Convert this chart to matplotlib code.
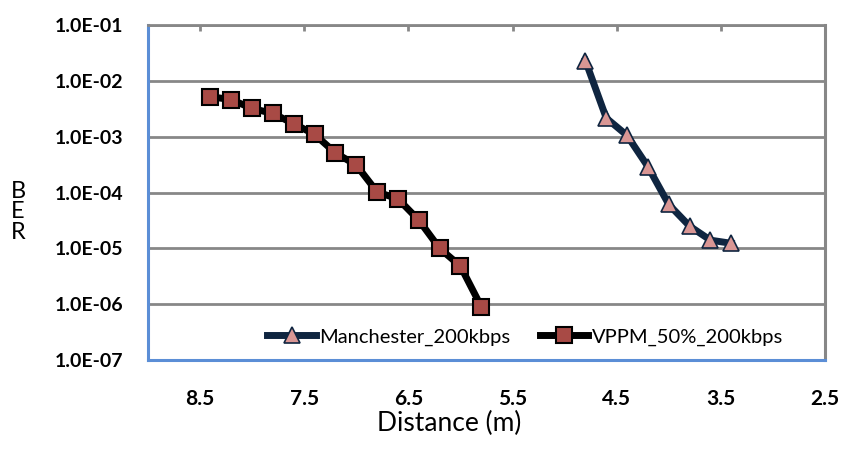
import numpy as np
import matplotlib
matplotlib.use('Agg')
from matplotlib import pyplot as plt
from matplotlib.ticker import FuncFormatter

# data
man_dist = [4.8, 4.6, 4.4, 4.2, 4.0, 3.8, 3.6, 3.4]
man_ber = [2.3e-2, 2.15e-3, 1.05e-3, 2.9e-4, 6.1e-5, 2.5e-5, 1.4e-5, 1.23e-5]

vppm_dist = [8.4, 8.2, 8.0, 7.8, 7.6, 7.4, 7.2, 7.0, 6.8, 6.6, 6.4, 6.2, 6.0, 5.8]
vppm_ber = [5.2e-3, 4.6e-3, 3.2e-3, 2.6e-3, 1.7e-3, 1.1e-3, 5.1e-4, 3.1e-4,
            1.02e-4, 7.7e-5, 3.2e-5, 1.0e-5, 4.8e-6, 9.0e-7]

x_ticks = [8.5, 7.5, 6.5, 5.5, 4.5, 3.5, 2.5]
y_ticks = [1e-1, 1e-2, 1e-3, 1e-4, 1e-5, 1e-6, 1e-7]

plt.rcParams['font.family'] = ['Lato', 'DejaVu Sans']

grid_col = '#878787'
blue = '#5b8ed6'

fig = plt.figure(figsize=(8.54, 4.51), dpi=100)
ax = fig.add_axes([148/854, 1 - 360/451, 677/854, 335/451])

ax.set_yscale('log')
ax.set_ylim(1e-7, 1e-1)
ax.set_xlim(9.0, 2.5)

ax.set_yticks(y_ticks)
ax.minorticks_off()
ax.yaxis.set_major_formatter(FuncFormatter(lambda v, p: f"{v:.1E}"))
ax.set_xticks(x_ticks)
ax.set_xticklabels([f"{v:.1f}" for v in x_ticks])

for tl in ax.get_yticklabels() + ax.get_xticklabels():
    tl.set_fontweight('bold')
ax.tick_params(axis='y', length=0, pad=18, labelsize=14)
ax.tick_params(axis='x', length=0, pad=21, labelsize=15)

# small inward ticks along the top
ax2 = ax.secondary_xaxis('top')
ax2.set_xticks(x_ticks)
ax2.set_xticklabels([])
ax2.tick_params(direction='in', length=4, width=2, color=grid_col)
ax2.spines['top'].set_visible(False)

ax.grid(True, axis='y', color=grid_col, linewidth=2)
ax.set_axisbelow(True)
ax.spines['left'].set_color(blue)
ax.spines['left'].set_linewidth(2.2)
ax.spines['bottom'].set_color(blue)
ax.spines['bottom'].set_linewidth(2.2)
ax.spines['right'].set_color(grid_col)
ax.spines['right'].set_linewidth(2.2)
ax.spines['top'].set_color(grid_col)
ax.spines['top'].set_linewidth(2)

ax.plot(man_dist, man_ber, '-^', color='#0f2540', lw=5, ms=12,
        markerfacecolor='#d99694', markeredgecolor='#0f2540', markeredgewidth=1.2,
        label='Manchester_200kbps')
ax.plot(vppm_dist, vppm_ber, '-s', color='black', lw=5, ms=11.5,
        markerfacecolor='#a84a45', markeredgecolor='black', markeredgewidth=1.5,
        label='VPPM_50%_200kbps')

ax.legend(loc='center', bbox_to_anchor=(0.557, 0.069), ncol=2, frameon=False,
          fontsize=14.5, handlelength=2.4, handletextpad=0.15, columnspacing=1.5,
          borderpad=0, borderaxespad=0)

ax.set_xlabel('Distance (m)', fontsize=19)
ax.xaxis.set_label_coords(0.445, -0.19)
ax.xaxis.label.set_va('center')

fig.text(18/854, 1 - 212/451, 'B\nE\nR', ha='center', va='center',
         fontsize=17, linespacing=0.95)

fig.savefig('out.png', dpi=100)
